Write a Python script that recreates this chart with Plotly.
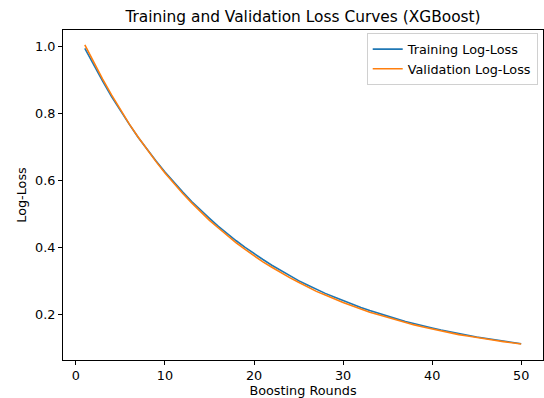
import plotly.graph_objects as go

rounds = list(range(1, 51))
train_logloss = [
    0.995, 0.944, 0.897, 0.851, 0.808, 0.768, 0.729, 0.693, 0.659, 0.626,
    0.595, 0.566, 0.538, 0.512, 0.488, 0.464, 0.442, 0.421, 0.401, 0.382,
    0.365, 0.348, 0.332, 0.317, 0.302, 0.289, 0.276, 0.264, 0.253, 0.242,
    0.231, 0.222, 0.213, 0.204, 0.196, 0.188, 0.180, 0.173, 0.167, 0.161,
    0.155, 0.149, 0.144, 0.139, 0.134, 0.130, 0.125, 0.121, 0.117, 0.114,
]
valid_logloss = [
    1.005, 0.952, 0.903, 0.856, 0.811, 0.769, 0.730, 0.692, 0.657, 0.623,
    0.592, 0.562, 0.534, 0.507, 0.482, 0.459, 0.436, 0.415, 0.395, 0.376,
    0.358, 0.342, 0.326, 0.311, 0.297, 0.283, 0.270, 0.259, 0.247, 0.237,
    0.227, 0.217, 0.208, 0.200, 0.192, 0.184, 0.177, 0.170, 0.164, 0.158,
    0.152, 0.147, 0.141, 0.137, 0.132, 0.128, 0.124, 0.120, 0.116, 0.113,
]
x_ticks = [0, 10, 20, 30, 40, 50]
y_ticks = [0.2, 0.4, 0.6, 0.8, 1.0]
y_tick_labels = ["0.2", "0.4", "0.6", "0.8", "1.0"]

FONT = "DejaVu Sans"
FS = 12.8

fig = go.Figure()
fig.add_trace(go.Scatter(x=rounds, y=train_logloss, mode="lines",
                         name="Training Log-Loss",
                         line=dict(color="#1f77b4", width=1.6)))
fig.add_trace(go.Scatter(x=rounds, y=valid_logloss, mode="lines",
                         name="Validation Log-Loss",
                         line=dict(color="#ff7f0e", width=1.6)))

axis_common = dict(showgrid=False, zeroline=False, showline=True, linecolor="black",
                   linewidth=1, mirror=True, ticks="outside", ticklen=4,
                   tickcolor="black", tickwidth=1, automargin=False,
                   tickfont=dict(family=FONT, size=FS, color="black"))

fig.update_layout(
    width=544, height=398,
    margin=dict(l=63, r=1, t=30, b=38),
    paper_bgcolor="white", plot_bgcolor="white",
    font=dict(family=FONT, color="black"),
    title=dict(text="Training and Validation Loss Curves (XGBoost)",
               font=dict(family=FONT, size=15.4, color="black"),
               x=(63 + 240) / 544, xanchor="center", y=1 - 17 / 398, yanchor="middle"),
    xaxis=dict(range=[-1.45, 52.45], tickvals=x_ticks,
               title=dict(text="Boosting Rounds", font=dict(family=FONT, size=FS),
                          standoff=3),
               **axis_common),
    yaxis=dict(range=[0.0653, 1.0497], tickvals=y_ticks, ticktext=y_tick_labels,
               title=dict(text="Log-Loss", font=dict(family=FONT, size=FS),
                          standoff=5),
               **axis_common),
    legend=dict(x=0.989, xanchor="right", y=0.99, yanchor="top",
                bgcolor="white", bordercolor="#d0d0d0", borderwidth=1,
                font=dict(family=FONT, size=FS, color="black"),
                itemwidth=30, tracegroupgap=0),
    showlegend=True,
)

fig.write_html("out.html")
